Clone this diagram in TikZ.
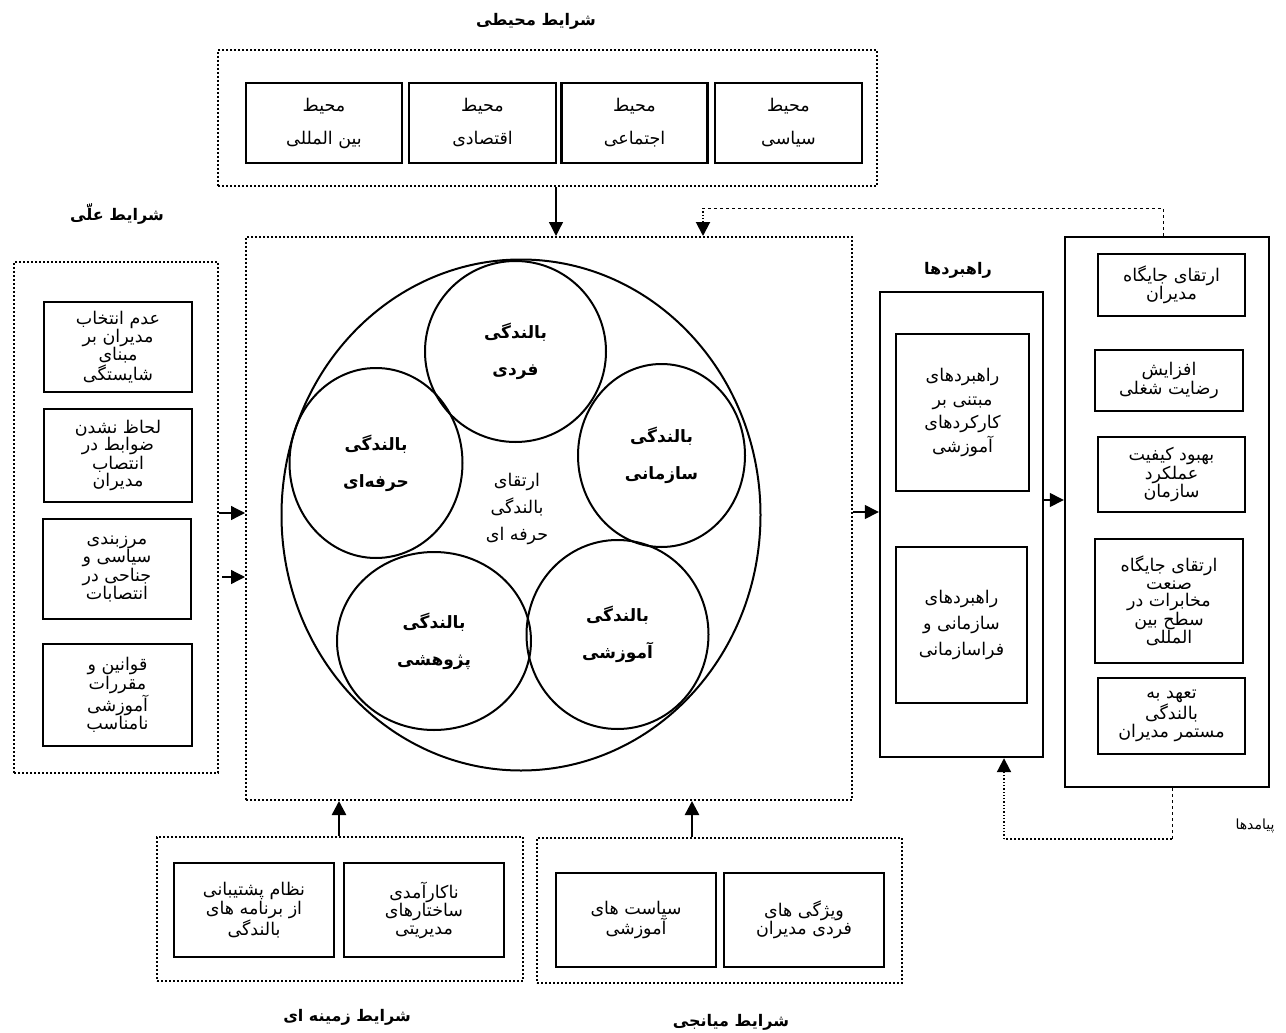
\documentclass[tikz,border=0pt]{standalone}
\usepackage{fontspec}
\newfontfamily\arabicfont[Script=Arabic]{DejaVu Sans}
\TeXXeTstate=1
\usetikzlibrary{positioning,arrows.meta,shapes.geometric}
\newcommand{\rl}[1]{\beginR#1\endR}

\begin{document}
\begin{tikzpicture}[x=1pt,y=-1pt,
		grp/.style={draw, dotted, line width=2pt, inner sep=0pt},
		box/.style={draw, line width=2.4pt, inner sep=0pt, align=center, font=\arabicfont\fontsize{17.5}{17.5}\selectfont},
		bub/.style={draw, ellipse, line width=2pt, inner sep=0pt, align=center, font=\arabicfont\bfseries\fontsize{17}{37}\selectfont},
		ttl/.style={font=\arabicfont\bfseries\fontsize{16}{18}\selectfont},
		arr/.style={-{Triangle[length=14pt,width=14pt]}, line width=1.3pt},
		fbdash/.style={dashed, line width=0.9pt},
		fbdot/.style={dotted, line width=2pt}
	]
	\useasboundingbox (0,0) rectangle (1286,1033);
	
	% -- شرایط محیطی --
	\node[ttl] (envt) at (536,21) {\rl{شرایط محیطی}};
	\node[grp, minimum width=659pt, minimum height=136pt] (env) at (547.5,118) {};
	\node[box, minimum width=156pt, minimum height=80pt, font=\arabicfont\fontsize{17.5}{33}\selectfont] (e1) at (324,123) {\rl{محیط}\\\rl{بین المللی}};
	\node[box, minimum width=147pt, minimum height=80pt, font=\arabicfont\fontsize{17.5}{33}\selectfont] (e2) at (482.5,123) {\rl{محیط}\\\rl{اقتصادی}};
	\node[box, minimum width=146pt, minimum height=80pt, font=\arabicfont\fontsize{17.5}{33}\selectfont] (e3) at (634.5,123) {\rl{محیط}\\\rl{اجتماعی}};
	\node[box, minimum width=147pt, minimum height=80pt, font=\arabicfont\fontsize{17.5}{33}\selectfont] (e4) at (788.5,123) {\rl{محیط}\\\rl{سیاسی}};
	
	% -- شرایط علّی --
	\node[ttl] (caust) at (117,214) {\rl{شرایط علّی}};
	\node[grp, minimum width=204pt, minimum height=511pt] (cause) at (116,517.5) {};
	\node[box, minimum width=148pt, minimum height=90pt] (c1) at (118,347) {\rl{عدم انتخاب}\\\rl{مدیران بر}\\\rl{مبنای}\\\rl{شایستگی}};
	\node[box, minimum width=148pt, minimum height=93pt] (c2) at (118,455.5) {\rl{لحاظ نشدن}\\\rl{ضوابط در}\\\rl{انتصاب}\\\rl{مدیران}};
	\node[box, minimum width=148pt, minimum height=100pt] (c3) at (117,569) {\rl{مرزبندی}\\\rl{سیاسی و}\\\rl{جناحی در}\\\rl{انتصابات}};
	\node[box, minimum width=149pt, minimum height=102pt] (c4) at (117.5,695) {\rl{قوانین و}\\\rl{مقررات}\\\rl{آموزشی}\\\rl{نامناسب}};
	
	% -- پدیده محوری --
	\node[grp, minimum width=606pt, minimum height=563pt] (core) at (549,518.5) {};
	\node[draw, ellipse, line width=2pt, minimum width=479pt, minimum height=511pt] (big) at (521,515) {};
	\node[bub, minimum width=181pt, minimum height=181pt] (b1) at (515.5,351.5) {\rl{بالندگی}\\\rl{فردی}};
	\node[bub, minimum width=173pt, minimum height=190pt] (b2) at (376,463) {\rl{بالندگی}\\\rl{حرفه‌ای}};
	\node[bub, minimum width=167pt, minimum height=183pt] (b3) at (661.5,455.5) {\rl{بالندگی}\\\rl{سازمانی}};
	\node[bub, minimum width=194pt, minimum height=178pt] (b4) at (434,641) {\rl{بالندگی}\\\rl{پژوهشی}};
	\node[bub, minimum width=182pt, minimum height=189pt] (b5) at (617.5,634.5) {\rl{بالندگی}\\\rl{آموزشی}};
	\node[align=center, font=\arabicfont\fontsize{17.5}{27}\selectfont] (mid) at (517,509) {\rl{ارتقای}\\\rl{بالندگی}\\\rl{حرفه ای}};
	
	% -- راهبردها --
	\node[ttl] (stratt) at (958,270) {\rl{راهبردها}};
	\node[draw, line width=2.4pt, inner sep=0pt, minimum width=163pt, minimum height=465pt] (strat) at (961.5,524.5) {};
	\node[box, minimum width=133pt, minimum height=157pt, font=\arabicfont\fontsize{17.5}{23.5}\selectfont] (s1) at (962.5,412.5) {\rl{راهبردهای}\\\rl{مبتنی بر}\\\rl{کارکردهای}\\\rl{آموزشی}};
	\node[box, minimum width=131pt, minimum height=156pt, font=\arabicfont\fontsize{17.5}{26}\selectfont] (s2) at (961.5,625) {\rl{راهبردهای}\\\rl{سازمانی و}\\\rl{فراسازمانی}};
	
	% -- پیامدها --
	\node[draw, line width=2.4pt, inner sep=0pt, minimum width=204pt, minimum height=550pt] (out) at (1167,512) {};
	\node[box, minimum width=147pt, minimum height=62pt] (o1) at (1171.5,285) {\rl{ارتقای جایگاه}\\\rl{مدیران}};
	\node[box, minimum width=148pt, minimum height=61pt] (o2) at (1169,380.5) {\rl{افزایش}\\\rl{رضایت شغلی}};
	\node[box, minimum width=147pt, minimum height=75pt] (o3) at (1171.5,474.5) {\rl{بهبود کیفیت}\\\rl{عملکرد}\\\rl{سازمان}};
	\node[box, minimum width=148pt, minimum height=124pt] (o4) at (1169,601) {\rl{ارتقای جایگاه}\\\rl{صنعت}\\\rl{مخابرات در}\\\rl{سطح بین}\\\rl{المللی}};
	\node[box, minimum width=147pt, minimum height=76pt] (o5) at (1171.5,716) {\rl{تعهد به}\\\rl{بالندگی}\\\rl{مستمر مدیران}};
	\node[font=\arabicfont\fontsize{14}{17}\selectfont] (outt) at (1255,826) {\rl{پیامدها}};
	
	% -- شرایط زمینه ای --
	\node[grp, minimum width=366pt, minimum height=144pt] (ctx) at (340,909) {};
	\node[box, minimum width=160pt, minimum height=94pt] (z1) at (254,910) {\rl{نظام پشتیبانی}\\\rl{از برنامه های}\\\rl{بالندگی}};
	\node[box, minimum width=160pt, minimum height=94pt] (z2) at (424,910) {\rl{ناکارآمدی}\\\rl{ساختارهای}\\\rl{مدیریتی}};
	\node[ttl] (ctxt) at (347,1017) {\rl{شرایط زمینه ای}};
	
	% -- شرایط میانجی --
	\node[grp, minimum width=365pt, minimum height=145pt] (med) at (719.5,910.5) {};
	\node[box, minimum width=160pt, minimum height=94pt] (m1) at (636,920) {\rl{سیاست های}\\\rl{آموزشی}};
	\node[box, minimum width=160pt, minimum height=94pt] (m2) at (804,920) {\rl{ویژگی های}\\\rl{فردی مدیران}};
	\node[ttl] (medt) at (731,1022) {\rl{شرایط میانجی}};
	
	% -- پیکان ها --
	\draw[arr] (env.south -| 556,0) -- (core.north -| 556,0);
	\draw[arr] (cause.east |- 0,513) -- (core.west |- 0,513);
	\draw[arr] ([xshift=3pt]cause.east |- 0,577) -- (core.west |- 0,577);
	\draw[arr] (core.east |- 0,512) -- (strat.west |- 0,512);
	\draw[arr] (strat.east |- 0,500) -- (out.west |- 0,500);
	\draw[arr, line width=2.5pt] (ctx.north -| 339,0) -- (core.south -| 339,0);
	\draw[arr, line width=2.5pt] (med.north -| 692,0) -- (core.south -| 692,0);
	
	% بازخورد
	\coordinate (fbt) at (703,208);
	\coordinate (fbr) at (1172,839);
	\coordinate (fbl) at (1004,839);
	\draw[fbdash] (out.north -| 1163,0) |- (fbt);
	\draw[arr, fbdot] (fbt) -- (fbt |- core.north);
	\draw[fbdash] (out.south -| fbr) -- (fbr);
	\draw[fbdot] (fbr) -- (fbl);
	\draw[arr, fbdot] (fbl) -- (fbl |- strat.south);
	
\end{tikzpicture}
\end{document}
